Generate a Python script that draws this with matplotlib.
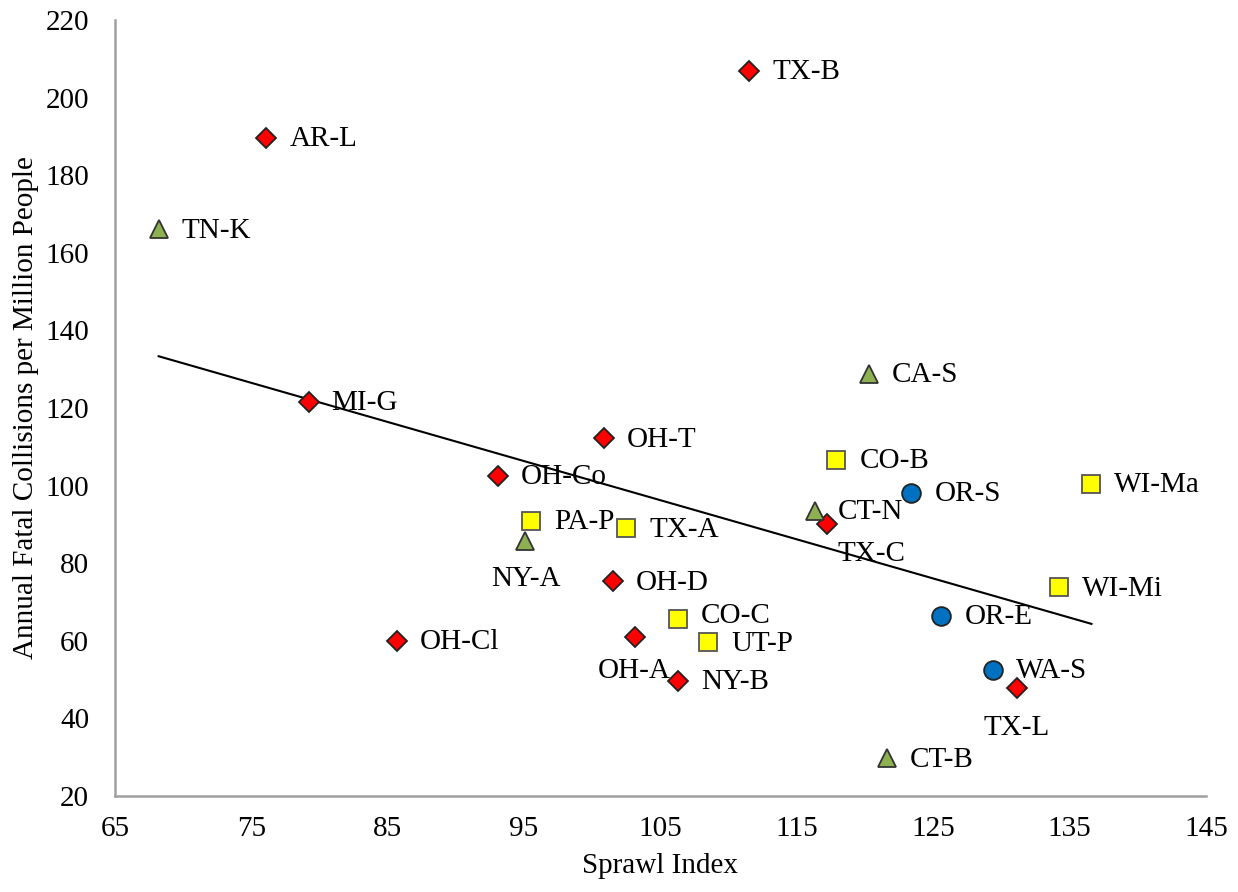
import numpy as np
import matplotlib
matplotlib.use("Agg")
import matplotlib.pyplot as plt

# ---- data ----
red_labels = ["AR-L", "TX-B", "MI-G", "OH-T", "OH-Co", "OH-D", "OH-A", "NY-B", "OH-Cl", "TX-C", "TX-L"]
red_x = [76.1, 111.5, 79.2, 100.85, 93.06, 101.5, 103.1, 106.3, 85.65, 117.2, 131.15]
red_y = [189.7, 206.9, 121.6, 112.2, 102.6, 75.4, 61.1, 49.7, 60.0, 90.0, 47.8]

yellow_labels = ["PA-P", "TX-A", "CO-C", "UT-P", "CO-B", "WI-Ma", "WI-Mi"]
yellow_x = [95.5, 102.5, 106.3, 108.5, 117.9, 136.6, 134.2]
yellow_y = [91.0, 89.0, 65.7, 59.6, 106.6, 100.5, 73.8]

green_labels = ["TN-K", "NY-A", "CT-N", "CA-S", "CT-B"]
green_x = [68.2, 95.1, 116.3, 120.3, 121.6]
green_y = [166.1, 85.8, 93.5, 128.8, 29.7]

blue_labels = ["OR-S", "OR-E", "WA-S"]
blue_x = [123.4, 125.6, 129.4]
blue_y = [98.2, 66.4, 52.6]

x_ticks = [65, 75, 85, 95, 105, 115, 125, 135, 145]
y_ticks = [20, 40, 60, 80, 100, 120, 140, 160, 180, 200, 220]

# label placement (pixel offsets, style only)
default_off = (23, -1.5, "left")
special_off = {
    "NY-A": (0, -38, "center"),
    "OH-A": (0, -34, "center"),
    "TX-L": (0, -40, "center"),
    "TX-C": (45, -30, "center"),
    "CO-C": (23, 3, "left"),
}

plt.rcParams["font.family"] = ["Liberation Serif", "DejaVu Serif"]
fig = plt.figure(figsize=(12.38, 8.92), dpi=100)
ax = fig.add_axes([115 / 1238, 1 - 796 / 892, (1206 - 115) / 1238, (796 - 20) / 892])

# trend line (least squares over all points)
all_x = np.array(red_x + yellow_x + green_x + blue_x)
all_y = np.array(red_y + yellow_y + green_y + blue_y)
k, b = np.polyfit(all_x, all_y, 1)
xt = np.array([all_x.min(), all_x.max()])
ax.plot(xt, k * xt + b, color="black", lw=1.5, zorder=2)

series = [
    (red_x, red_y, red_labels, "D", "#FF0000", "#222222", 10),
    (yellow_x, yellow_y, yellow_labels, "s", "#FFFF00", "#555555", 13.5),
    (green_x, green_y, green_labels, "^", "#8DB050", "#333333", 13),
    (blue_x, blue_y, blue_labels, "o", "#0070C0", "#222222", 13.5),
]
for xs, ys, labs, mk, col, ec, ms in series:
    ax.plot(xs, ys, linestyle="none", marker=mk, markersize=ms,
            markerfacecolor=col, markeredgecolor=ec, markeredgewidth=1.3, zorder=3)
    for x, y, lab in zip(xs, ys, labs):
        dx, dy, ha = special_off.get(lab, default_off)
        ax.annotate(lab, (x, y), xytext=(dx, dy), textcoords="offset pixels",
                    ha=ha, va="center", fontsize=21, color="black", zorder=4)

ax.set_xlim(65, 145)
ax.set_ylim(20, 220)
ax.set_xticks(x_ticks)
ax.set_yticks(y_ticks)
ax.xaxis.set_tick_params(length=0, labelsize=21, pad=14.5)
ax.yaxis.set_tick_params(length=0, labelsize=21, pad=18.7)
for s in ["top", "right"]:
    ax.spines[s].set_visible(False)
for s in ["left", "bottom"]:
    ax.spines[s].set_color("#A0A0A0")
    ax.spines[s].set_linewidth(1.8)

ax.set_xlabel("Sprawl Index", fontsize=21, labelpad=7.5)
ax.set_ylabel("Annual Fatal Collisions per Million People", fontsize=21, labelpad=4.5)

fig.savefig("out.png", dpi=100)
